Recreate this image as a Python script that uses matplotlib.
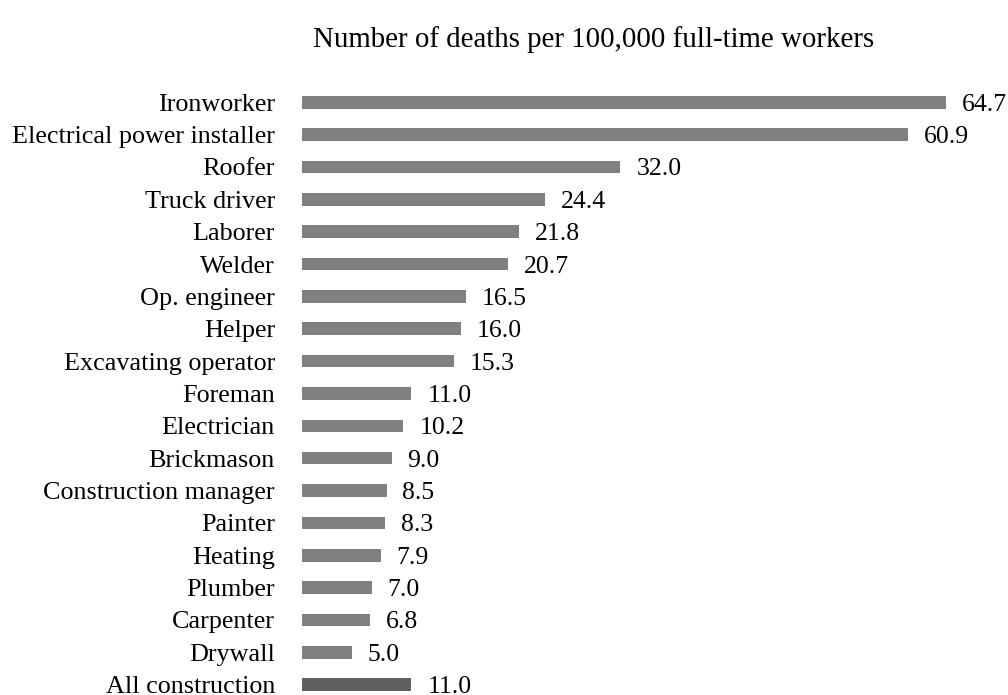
import matplotlib
matplotlib.use("Agg")
import matplotlib.pyplot as plt

occupations = ["Ironworker", "Electrical power installer", "Roofer", "Truck driver",
               "Laborer", "Welder", "Op. engineer", "Helper", "Excavating operator",
               "Foreman", "Electrician", "Brickmason", "Construction manager",
               "Painter", "Heating", "Plumber", "Carpenter", "Drywall", "All construction"]
deaths = [64.7, 60.9, 32.0, 24.4, 21.8, 20.7, 16.5, 16.0, 15.3, 11.0, 10.2, 9.0,
          8.5, 8.3, 7.9, 7.0, 6.8, 5.0, 11.0]
title = "Number of deaths per 100,000 full-time workers"

plt.rcParams['font.family'] = ['Liberation Serif', 'DejaVu Serif']

fig = plt.figure(figsize=(10.08, 6.95), dpi=100)
ax = fig.add_axes([0.2996, 0.00086, 0.691, 0.8753])

colors = ["#808080"] * (len(occupations) - 1) + ["#606060"]
ypos = list(range(len(occupations)))
ax.barh(ypos, deaths, height=0.39, color=colors)
for y, v in zip(ypos, deaths):
    ax.text(v + 1.6, y, f"{v:.1f}", va="center_baseline", ha="left", fontsize=18.5)

ax.set_xlim(0, 70)
ax.set_ylim(18.3, -0.5)
ax.set_yticks(ypos)
ax.set_yticklabels(occupations, fontsize=18.8)
for lbl in ax.get_yticklabels():
    lbl.set_va("center_baseline")
ax.tick_params(axis="y", length=0, pad=19.5)
ax.set_xticks([])
for s in ax.spines.values():
    s.set_visible(False)

fig.text(594 / 1008, 1 - 40 / 695, title, ha="center", va="center", fontsize=20.8)

fig.savefig("out.png", dpi=100)
